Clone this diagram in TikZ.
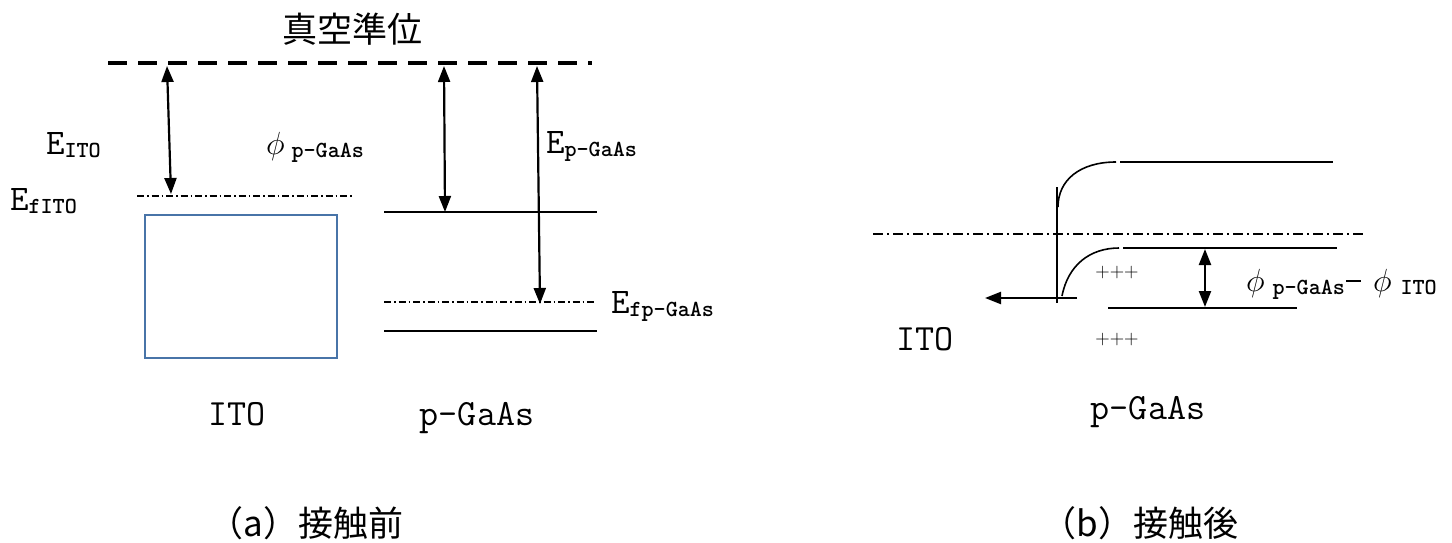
\RequirePackage{fix-cm}
\documentclass[tikz,border=0pt]{standalone}
\usepackage{fontspec}
\newfontfamily\cjk{Noto Sans CJK JP}
\usetikzlibrary{arrows.meta}
\definecolor{boxblue}{RGB}{72,116,168}
\newcommand{\bigE}{{\fontsize{36}{36}\selectfont E}}
\newcommand{\subt}[1]{\raisebox{-3.5pt}{\fontsize{23}{23}\selectfont\bfseries #1}}
\newcommand{\bigphi}{{\fontsize{32}{32}\selectfont$\phi$}}
\tikzset{
  every node/.style={inner sep=0pt, outer sep=0pt},
  lev/.style={line width=1.6pt},
  fermi/.style={line width=1.3pt, dash pattern=on 7pt off 3pt on 1.5pt off 3pt},
  fermiB/.style={line width=1.3pt, dash pattern=on 10pt off 4pt on 2pt off 4pt},
  vac/.style={line width=4pt, dash pattern=on 19pt off 11pt},
  dbl/.style={line width=2.2pt, {Triangle[length=16pt,width=12pt]}-{Triangle[length=16pt,width=12pt]}},
  sgl/.style={line width=2.2pt, -{Triangle[length=16pt,width=12pt]}},
  lbl/.style={font=\ttfamily},
  big/.style={font=\ttfamily\fontsize{37}{37}\selectfont},
  captxt/.style={font=\cjk\fontsize{35}{35}\selectfont},
  plus/.style={font=\fontsize{20}{20}\selectfont},
}
\begin{document}
\begin{tikzpicture}[x=1pt,y=-1pt]
\useasboundingbox (0,0) rectangle (1452,542);
% ---------- (a) ----------
\node[captxt] (title) at (352,29) {真空準位};
\coordinate (v0) at (108,63); \coordinate (v1) at (592,63);
\draw[vac] (v0) -- (v1);
\coordinate (f0) at (137,196); \coordinate (f1) at (352,196);
\draw[fermi] (f0) -- (f1);
\node[draw=boxblue, line width=2pt, minimum width=192pt, minimum height=143pt] (itobox) at (241,286.5) {};
\coordinate (c0) at (384,212); \coordinate (c1) at (597,212);
\draw[lev] (c0) -- (c1);
\coordinate (g0) at (384,302); \coordinate (g1) at (597,302);
\draw[fermi] (g0) -- (g1);
\coordinate (d0) at (384,331); \coordinate (d1) at (597,331);
\draw[lev] (d0) -- (d1);
\coordinate (a1t) at (167,66); \coordinate (a1b) at (171,194);
\draw[dbl] (a1t) -- (a1b);
\coordinate (a2t) at (444,66); \coordinate (a2b) at (445,212);
\draw[dbl] (a2t) -- (a2b);
\coordinate (a3t) at (537,66); \coordinate (a3b) at (540,304);
\draw[dbl] (a3t) -- (a3b);
\node[lbl, anchor=base west] (eito) at (46,154) {\bigE\subt{ITO}};
\node[lbl, anchor=base west] (efito) at (10,210) {\bigE\subt{fITO}};
\node[lbl, anchor=base west] (phip) at (266,154) {\bigphi\hspace{7pt}\subt{p-GaAs}};
\node[lbl, anchor=base west] (ep) at (546,153) {\bigE\subt{p-GaAs}};
\node[lbl, anchor=base west] (efp) at (611,313) {\bigE\subt{fp-GaAs}};
\node[big, anchor=base] (ito) at (237,425) {ITO};
\node[big, anchor=base] (pgaas) at (477,425) {p-GaAs};
\node[captxt] (capa) at (306,523) {（a）接触前};
% ---------- (b) ----------
\coordinate (w0) at (1057,187); \coordinate (w1) at (1057,303);
\draw[lev] (w0) -- (w1);
\coordinate (u0) at (1058,207); \coordinate (u1) at (1116,162);
\draw[lev] (u0) .. controls (1058,180) and (1080,162) .. (u1);
\coordinate (u2) at (1120,162); \coordinate (u3) at (1333,162);
\draw[lev] (u2) -- (u3);
\coordinate (h0) at (873,234); \coordinate (h1) at (1365,234);
\draw[fermiB] (h0) -- (h1);
\coordinate (l0) at (1062,296); \coordinate (l1) at (1119,248);
\draw[lev] (l0) .. controls (1068,265) and (1090,248) .. (l1);
\coordinate (l2) at (1123,248); \coordinate (l3) at (1337,248);
\draw[lev] (l2) -- (l3);
\coordinate (b0) at (1108,308); \coordinate (b1) at (1297,308);
\draw[lev] (b0) -- (b1);
\coordinate (e0) at (1077,298); \coordinate (e1) at (985,298);
\draw[sgl] (e0) -- (e1);
\coordinate (k0) at (1205,249); \coordinate (k1) at (1205,307);
\draw[dbl] (k0) -- (k1);
\node[plus] (pl1) at (1117,273) {+++};
\node[plus] (pl2) at (1117,340) {+++};
\node[lbl, anchor=base west] (dphi) at (1246,291) {\bigphi\hspace{8pt}\subt{p-GaAs}\hspace{1pt}\raisebox{9pt}{\rule{15pt}{2.2pt}}\hspace{12pt}\bigphi\hspace{9pt}\subt{ITO}};
\node[big, anchor=base] (ito2) at (925,350) {ITO};
\node[big, anchor=base] (pgaas2) at (1148,419) {p-GaAs};
\node[captxt] (capb) at (1140,523) {（b）接触後};
\end{tikzpicture}
\end{document}
